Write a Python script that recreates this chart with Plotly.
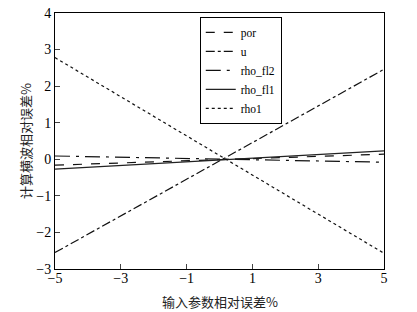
import plotly.graph_objects as go

x_vals = [-5, 5]
por = [-0.16, 0.14]
u = [-2.55, 2.46]
rho_fl2 = [0.09, -0.08]
rho_fl1 = [-0.27, 0.23]
rho1 = [2.78, -2.57]

x_ticks = [-5, -3, -1, 1, 3, 5]
y_ticks = [-3, -2, -1, 0, 1, 2, 3, 4]

series = [
    ("por", por, "dash", "#111111"),
    ("u", u, "dashdot", "#111111"),
    ("rho_fl2", rho_fl2, "longdashdot", "#111111"),
    ("rho_fl1", rho_fl1, "solid", "#222222"),
    ("rho1", rho1, "dot", "#111111"),
]

fig = go.Figure()
for name, vals, dash, col in series:
    fig.add_trace(go.Scatter(x=x_vals, y=vals, mode="lines", name=name,
                             line=dict(color=col, width=1.2, dash=dash)))

serif = "Liberation Serif, Times New Roman, serif"
cjk = "Noto Sans CJK SC"

fig.update_layout(
    width=417, height=312,
    margin=dict(l=55, r=33, t=13, b=43, autoexpand=False),
    paper_bgcolor="white", plot_bgcolor="white",
    showlegend=True,
    legend=dict(x=0.44, y=0.985, xanchor="left", yanchor="top",
                bgcolor="white", bordercolor="black", borderwidth=1,
                font=dict(family=serif, size=11.5, color="black"),
                tracegroupgap=0, itemwidth=30),
    xaxis=dict(range=[-5, 5], tickvals=x_ticks, ticks="inside", ticklen=5,
               showline=True, linecolor="black", linewidth=1, mirror=True,
               showgrid=False, zeroline=False, ticklabelstandoff=-4,
               ticklabeloverflow="allow",
               tickfont=dict(family=serif, size=14, color="black")),
    yaxis=dict(range=[-3, 4], tickvals=y_ticks, ticks="inside", ticklen=5,
               showline=True, linecolor="black", linewidth=1, mirror=True,
               showgrid=False, zeroline=False, ticklabeloverflow="allow",
               tickfont=dict(family=serif, size=14, color="black")),
    annotations=[
        dict(text="输入参数相对误差%", xref="paper", yref="paper",
             x=0.5, y=-0.125, xanchor="center", yanchor="middle", showarrow=False,
             font=dict(family=cjk, size=13, color="#222")),
        dict(text="计算横波相对误差%", xref="paper", yref="paper",
             x=-0.091, y=0.5, xanchor="center", yanchor="middle", showarrow=False,
             textangle=-90, font=dict(family=cjk, size=13, color="#222")),
    ],
)

fig.write_html("out.html", config={"displayModeBar": False},
               post_script="document.body.style.margin='0';")
